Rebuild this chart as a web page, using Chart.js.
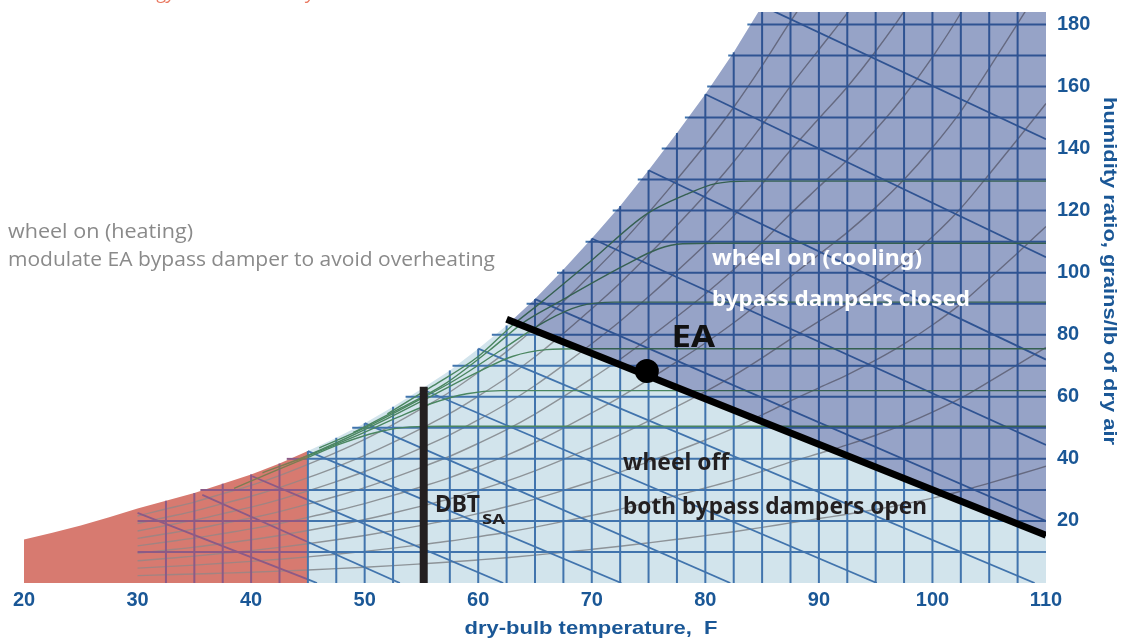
<!DOCTYPE html>
<html><head><meta charset="utf-8">
<script src="https://cdn.jsdelivr.net/npm/chart.js@4.4.1/dist/chart.umd.min.js"></script>
<style>html,body{margin:0;padding:0;background:#fff;overflow:hidden}canvas{display:block}</style>
</head><body>
<canvas id="c" width="1132" height="639"></canvas>
<script>
// ---------------- data ----------------
const satT = [20,22.5,25,27.5,30,32.5,35,37.5,40,42.5,45,47.5,50,52.5,55,57.5,60,62.5,65,67.5,70,72.5,75,77.5,80,82.5,85,87.5,90,92.5,95,97.5,100,102.5,105,107.5,110];
const satW = [14,16.2,18.5,21.2,24,26.5,29,32,35,38.5,42.5,46.8,51.5,56.8,62.5,68.5,75.5,83,91.5,101,111,121.5,133,145,157.5,171,186,202,217,232,249,268,290,315,345,376,408];
const rhLevels = [10,20,30,40,50,60,70,80,90];
const dbLines = [32.5,35,37.5,40,42.5,45,47.5,50,52.5,55,57.5,60,62.5,65,67.5,70,72.5,75,77.5,80,82.5,85,87.5,90,92.5,95,97.5,100,102.5,105,107.5];
const wLines = [10,20,30,40,50,60,70,80,90,100,110,120,130,140,150,160,170,180];
const wbStartT = [30,35.7,40.1,45,50,55,60,65,70,75,80,85];
const wbStartW = [22.6,28.4,34.4,42.5,51.5,62.5,75.5,91.5,111,133,157.5,186];
const wbEndT = [45.8,53.1,62.2,72.6,82.2,95.1,109,110,110,110,110,110];
const wbEndW = [0,0,0,0,0,0,0,20,44.5,72,105,143];
const greenT = [
  [38.5,42,45,48,51,54,57,110],
  [41,45,49,53,56,59,62,110],
  [44,48,52,56,60,63,66,69,110],
  [46,50,54,58,62,66,69,72,110],
  [49,53,57,61,64,67.1,73,75.9,78,81,110],
  [52,56,60,63,65.6,70,74.75,78.3,80.9,84,110]
];
const greenW = [
  [30.5,36,40.5,45,48.5,50.3,50.5,50.5],
  [35.5,41,47,53.5,58,61,62,62],
  [39.5,46,53,60.5,68,73,75.2,75.5,75.5],
  [43.5,50,57.5,65.5,75,84.5,89.3,90.5,90.5],
  [48.5,56,64,75,84,90.6,102.6,107.7,109.3,109.5,109.5],
  [54.5,63.5,73,83,90.6,104,118.7,125.2,128.7,129.5,129.5]
];
const eaLineT = [62.5,110];
const eaLineW = [85,15.4];
const eaPointT = [74.85];
const eaPointW = [68.3];
const dbtT = [55.2,55.2];
const dbtW = [0,63.2];
const darkCorner = {t:62.9, w:84.4};
const xTicks = [20,30,40,50,60,70,80,90,100,110];
const yTicks = [20,40,60,80,100,120,140,160,180];

// ---------------- helpers ----------------
function interp(xs, ys, x){
  for(let i=0;i<xs.length-1;i++){
    if(x>=xs[i] && x<=xs[i+1]){ const f=(x-xs[i])/(xs[i+1]-xs[i]); return ys[i]+f*(ys[i+1]-ys[i]); }
  }
  return x<xs[0]?ys[0]:ys[ys.length-1];
}
const satAt = t => interp(satT, satW, t);
const tAtSat = w => interp(satW, satT, w);
function rhW(phi, ws){ const w=ws/7000, xr=w/(0.622+w), v=phi*xr; return 7000*0.622*v/(1-v); }
function splitAt(points, xb){
  const out=[];
  for(let i=0;i<points.length;i++){
    const p=points[i];
    if(i>0){ const q=points[i-1];
      if((q.x-xb)*(p.x-xb)<0){ const f=(xb-q.x)/(p.x-q.x); out.push({x:xb,y:q.y+f*(p.y-q.y)}); } }
    out.push(p);
  }
  return out;
}
const pts = (xs, ys) => xs.map((x,i)=>({x, y:ys[i]}));

const BLUE='#4174ad', BLUE_R='#8c5a86', GRAY='#8d9398', GRAY_R='#a08482', GREEN='#4a8660', GREEN_R='#7c7d52';
const redSeg = col => ({ borderColor: c => (c.p1.parsed.x <= 45.0001 ? col : undefined) });

const datasets=[];
function add(o){ datasets.push(Object.assign({pointRadius:0, pointHoverRadius:0, borderWidth:0, borderColor:'rgba(0,0,0,0)', fill:false, tension:0}, o)); }

// region fills
const inRange = (a,b) => satT.filter(t=>t>=a && t<=b);
add({label:'light', order:100, fill:'shape', backgroundColor:'#d2e4ec',
  data:[{x:45,y:0}, ...inRange(45,85).map(t=>({x:t,y:satAt(t)})), {x:110,y:satAt(85)}, {x:110,y:0}]});
add({label:'red', order:99, fill:'shape', backgroundColor:'#d77a70',
  data:[{x:20,y:0}, ...inRange(20,45).map(t=>({x:t,y:satAt(t)})), {x:45,y:0}]});

// relative humidity lines
rhLevels.forEach(r=>{
  add({order:60, borderColor:GRAY, borderWidth:1.4, cubicInterpolationMode:'monotone', segment:redSeg(GRAY_R),
    data: inRange(30,110).map(t=>({x:t, y:rhW(r/100, satAt(t))}))});
});
// wet-bulb / enthalpy diagonals
wbStartT.forEach((t,i)=>{
  add({order:55, borderColor:BLUE, borderWidth:1.8, segment:redSeg(BLUE_R),
    data: splitAt([{x:t,y:wbStartW[i]},{x:wbEndT[i],y:wbEndW[i]}],45)});
});
// dry-bulb verticals
dbLines.forEach(t=>{
  add({order:50, borderColor: t<45?BLUE_R:BLUE, borderWidth:2,
    data:[{x:t,y:0},{x:t,y:Math.min(satAt(t),190)}]});
});
// humidity ratio horizontals
wLines.forEach(w=>{
  const s = w < satAt(30) ? 30 : tAtSat(w)-0.3;
  add({order:50, borderColor:BLUE, borderWidth:2, segment:redSeg(BLUE_R),
    data: splitAt([{x:s,y:w},{x:110,y:w}],45)});
});
// green process curves
greenT.forEach((ts,k)=>{
  add({order:45, borderColor:GREEN, borderWidth:1.4, cubicInterpolationMode:'monotone', segment:redSeg(GREEN_R),
    data: splitAt(pts(ts, greenW[k]),45)});
});
// switch to multiply, then dark region
add({label:'blend-on', order:21, data:[]});
add({label:'blend-off', order:20, fill:'shape', backgroundColor:'#b6b6d7',
  data:[{x:110,y:eaLineW[1]}, {x:darkCorner.t,y:darkCorner.w}, ...inRange(65,85).map(t=>({x:t,y:satAt(t)})), {x:110,y:satAt(85)}]});
// black marks
add({order:10, borderColor:'#231f20', borderWidth:8, data:pts(dbtT,dbtW)});
add({order:9, borderColor:'#000000', borderWidth:7, data:pts(eaLineT,eaLineW)});
add({order:8, showLine:false, pointRadius:12, pointBackgroundColor:'#000', pointBorderWidth:0, data:pts(eaPointT,eaPointW)});

// ---------------- fonts ----------------
function hasFont(name){
  const c=document.createElement('canvas').getContext('2d');
  const s='wheel 0123456789 dry-bulb';
  c.font='bold 40px monospace'; const a=c.measureText(s).width;
  c.font='bold 40px "'+name+'", monospace'; const b=c.measureText(s).width;
  return Math.abs(a-b)>1;
}
const narrow = hasFont('Liberation Sans Narrow');
const AX_FAM = narrow ? '"Liberation Sans Narrow"' : '"Liberation Sans"';
const AX_SIZE = narrow ? 24 : 20;
const AXC = '#1a5796';

function fitText(ctx, text, x, y, w, font, color, align){
  ctx.save(); ctx.font=font; ctx.fillStyle=color; ctx.textBaseline='alphabetic'; ctx.textAlign='left';
  const m=ctx.measureText(text).width; const sx=w/m;
  ctx.translate(x,y); ctx.scale(sx,1);
  ctx.fillText(text, align==='center' ? -m/2 : 0, 0);
  ctx.restore();
}

const blendPlugin = {
  id:'blend',
  afterDatasetDraw(chart, args){
    const ds = chart.data.datasets[args.index];
    if(ds.label==='blend-on') chart.ctx.globalCompositeOperation='multiply';
    if(ds.label==='blend-off') chart.ctx.globalCompositeOperation='source-over';
  }
};
const textPlugin = {
  id:'texts',
  afterDraw(chart){
    const ctx=chart.ctx;
    ctx.globalCompositeOperation='source-over';
    // cut-off heading at the top
    ctx.save(); ctx.font='italic 400 19px "Open Sans"'; ctx.fillStyle='#ea7a62'; ctx.textAlign='right'; ctx.textBaseline='alphabetic';
    ctx.fillText('total energy wheel control system', 356, -1); ctx.restore();
    const G='400 20px "Open Sans"';
    fitText(ctx,'wheel on (heating)',8,238,185,G,'#8a8a8a');
    fitText(ctx,'modulate EA bypass damper to avoid overheating',8,266,487,G,'#8a8a8a');
    const W='700 22px "Noto Sans"';
    fitText(ctx,'wheel on (cooling)',712,265,210,W,'#ffffff');
    fitText(ctx,'bypass dampers closed',712,306,258,W,'#ffffff');
    const D='700 23px "Noto Sans"';
    fitText(ctx,'wheel off',623,469.5,106,D,'#231f20');
    fitText(ctx,'both bypass dampers open',623,513.5,304,D,'#231f20');
    fitText(ctx,'EA',671.5,346.5,43.5,'700 30px "Noto Sans"','#111');
    fitText(ctx,'DBT',435,511.5,45,'700 23px "Noto Sans"','#231f20');
    fitText(ctx,'SA',482,524,23,'700 15px "Noto Sans"','#231f20');
    // axis titles
    const AF='bold '+(narrow?22:19)+'px '+AX_FAM;
    fitText(ctx,'dry-bulb temperature,  F',591,634,253,AF,AXC,'center');
    ctx.save(); ctx.translate(1104,271); ctx.rotate(Math.PI/2);
    fitText(ctx,'humidity ratio, grains/lb of dry air',0,0,348,AF,AXC,'center');
    ctx.restore();
  }
};

new Chart(document.getElementById('c'), {
  type:'line',
  data:{datasets},
  options:{
    responsive:false, animation:false, devicePixelRatio:1, events:[],
    layout:{padding:{left:24, top:10, right:0, bottom:0}},
    plugins:{legend:{display:false}, tooltip:{enabled:false}},
    scales:{
      x:{type:'linear', position:'bottom', min:20, max:110,
        grid:{display:false, drawTicks:false}, border:{display:false},
        afterBuildTicks:s=>{ s.ticks = xTicks.map(v=>({value:v})); },
        afterFit:s=>{ s.height=56; s.paddingLeft=0; s.paddingRight=0; },
        ticks:{color:AXC, padding:5, maxRotation:0, autoSkip:false, font:{family:AX_FAM, size:AX_SIZE, weight:'bold'}, callback:v=>String(v)}},
      y:{type:'linear', position:'right', min:0, max:184,
        grid:{display:false, drawTicks:false}, border:{display:false},
        afterBuildTicks:s=>{ s.ticks = yTicks.map(v=>({value:v})); },
        afterFit:s=>{ s.width=86; s.paddingTop=0; s.paddingBottom=0; },
        ticks:{color:AXC, padding:11, autoSkip:false, font:{family:AX_FAM, size:AX_SIZE, weight:'bold'}, callback:v=>String(v)}}
    }
  },
  plugins:[blendPlugin, textPlugin]
});
</script>
</body></html>
